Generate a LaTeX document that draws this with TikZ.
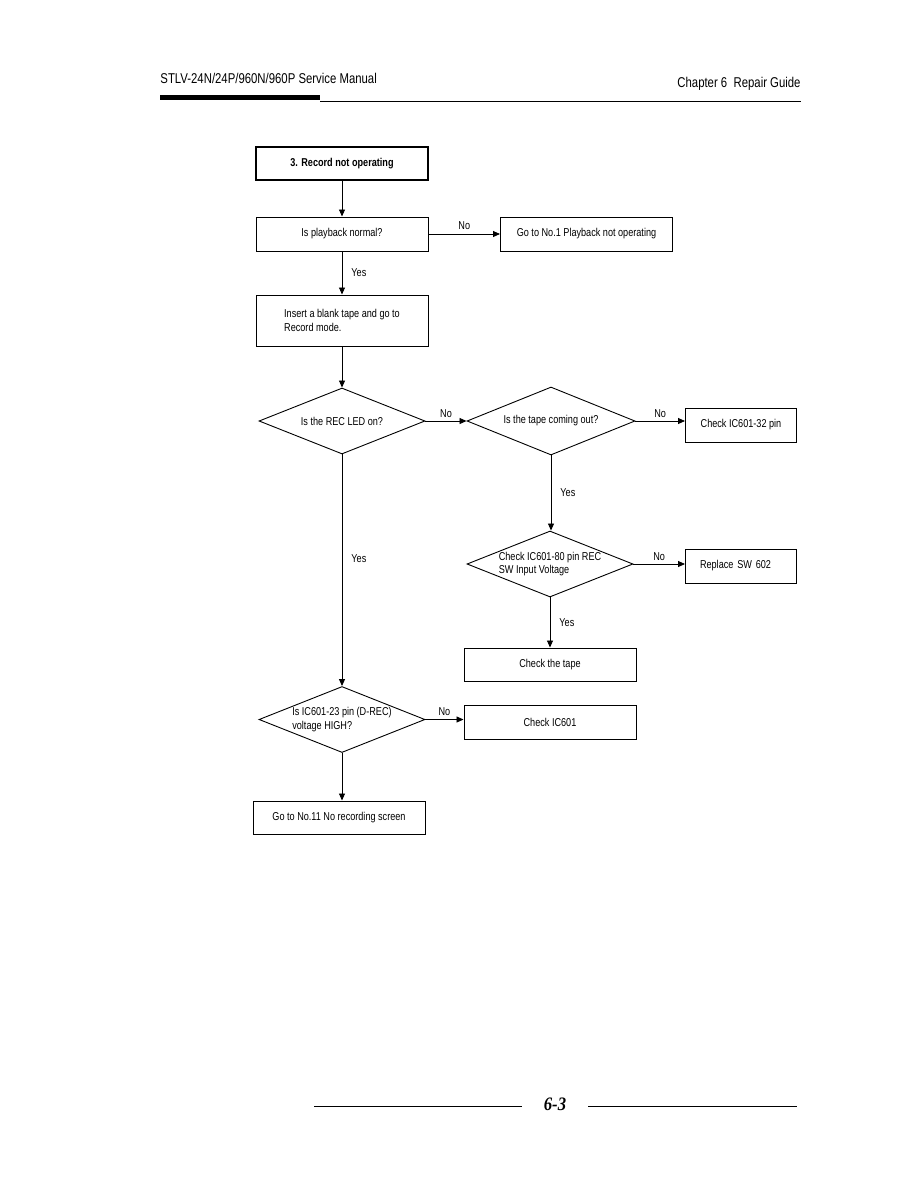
\documentclass[tikz,border=0pt]{standalone}
\usepackage{fontspec}
\setmainfont{Liberation Sans}[FakeStretch=0.8]
\newfontfamily\headfont{Liberation Sans}[FakeStretch=0.8]
\newfontfamily\pagefont{Liberation Serif}[FakeStretch=0.88]
\usetikzlibrary{arrows.meta,shapes.geometric}

\begin{document}
\begin{tikzpicture}[
  x=1pt, y=-1pt, line width=.9pt,
  flow/.style={draw, line width=.85pt, -{Triangle[length=7pt,width=6pt]}},
  box/.style={draw, line width=1pt, rectangle, minimum width=172pt,
    minimum height=34pt, inner sep=2pt, font=\fontsize{11.4}{13.5}\selectfont},
  endbox/.style={box, minimum width=111pt},
  query/.style={draw, line width=.9pt, diamond, shape aspect=2.6, inner sep=0pt,
    minimum width=166pt, minimum height=66pt, font=\fontsize{11.4}{13.5}\selectfont},
  lab/.style={font=\fontsize{11.4}{12}\selectfont, inner sep=1pt},
]
  % Page size; columns and rows of the chart are pixel positions.
  \useasboundingbox (0,0) rectangle (918,1188);
  \def\xl{342} \def\xm{550} \def\xr{741}

  % Running head.
  \node[anchor=base west, font=\headfont\fontsize{14.2}{16}\selectfont, inner sep=0pt] (head) at (160,84)
    {STLV-24N/24P/960N/960P Service Manual};
  \node[anchor=base east, font=\headfont\fontsize{14.2}{16}\selectfont, inner sep=0pt] (chap) at (801,88)
    {Chapter 6\ \ Repair Guide};
  \fill (160,95) rectangle (320,100);
  \draw[line width=.7pt] (320,101) -- (801,101);

  % Left column.
  \node[box, line width=1.2pt, minimum height=33pt] (title) at (\xl,163.5)
    {\textbf{3. Record not operating}};
  \node[box] (playback) at (\xl,234) {Is playback normal?};
  \node[box] (goto1) at (586.5,234) {Go to No.1 Playback not operating};
  \node[box, minimum height=51pt, align=left] (insert) at (\xl,320.5)
    {Insert a blank tape and go to\\Record mode.};
  \node[query] (recled) at (\xl,421) {Is the REC LED on?};
  \node[query, align=left] (drec) at (\xl,719.5)
    {Is IC601-23 pin (D-REC)\\voltage HIGH?};
  \node[box, minimum height=33pt] (goto11) at (339,817.5) {Go to No.11 No recording screen};

  % Right columns.
  \node[query, minimum width=168pt, minimum height=68pt] (tapeout) at (551,421)
    {Is the tape coming out?};
  \node[endbox] (chk32) at (\xr,425) {Check IC601-32 pin};
  \node[query, align=left] (swvolt) at (\xm,564)
    {Check IC601-80 pin REC\\SW Input Voltage};
  \node[endbox, text width=82pt, align=left] (swrepl) at (\xr,566) {Replace SW 602};
  \node[box, minimum height=33pt] (tapechk) at (\xm,664.5) {Check the tape};
  \node[box] (chk601) at (\xm,722) {Check IC601};

  % Connectors.
  \draw[flow] (title) -- (playback);
  \draw[flow] (playback) -- node[lab, right=8pt] {Yes} (insert);
  \draw[flow] (playback.east) -- node[lab, above=3pt] {No} (goto1.west);
  \draw[flow] (insert) -- (recled);
  \draw[flow] (recled.east) -- node[lab, above=2pt] {No} (tapeout.west);
  \draw[flow] (tapeout.east) -- node[lab, above=2pt] {No} (chk32.west |- tapeout.east);
  \draw[flow] (tapeout.south) -- node[lab, right=8pt] {Yes} (tapeout.south |- swvolt.north);
  \draw[flow] (swvolt.east) -- node[lab, above=2pt] {No} (swrepl.west |- swvolt.east);
  \draw[flow] (swvolt) -- node[lab, right=8pt] {Yes} (tapechk);
  \draw[flow] (recled.south) -- node[lab, right=8pt, pos=.45] {Yes} (drec.north);
  \draw[flow] (drec.east) -- node[lab, above=2pt] {No} (drec.east -| chk601.west);
  \draw[flow] (drec.south) -- (drec.south |- goto11.north);

  % Page foot.
  \draw[line width=.6pt] (314,1106) -- (522,1106);
  \draw[line width=.6pt] (588,1106) -- (797,1106);
  \node[font=\pagefont\bfseries\itshape\fontsize{19}{21}\selectfont] (pageno) at (555,1104) {6-3};
\end{tikzpicture}
\end{document}
